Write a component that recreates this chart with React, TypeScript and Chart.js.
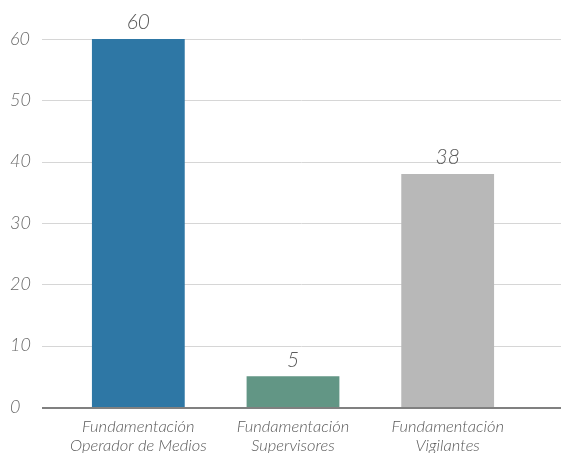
import React, { useEffect, useRef } from "react";
import { Chart, registerables } from "chart.js";

Chart.register(...registerables);

const categories: string[][] = [
  ["Fundamentación", "Operador de Medios"],
  ["Fundamentación", "Supervisores"],
  ["Fundamentación", "Vigilantes"],
];
const values: number[] = [60, 5, 38];
const barColors: string[] = ["#2e77a5", "#629685", "#b8b8b8"];
const yTicks: number[] = [0, 10, 20, 30, 40, 50, 60];

const FONT = "Lato, 'Open Sans', sans-serif";

const overlay = {
  id: "overlay",
  beforeDatasetsDraw(chart: any) {
    const { ctx } = chart;
    const y = chart.scales.y;
    ctx.save();
    yTicks.forEach((t) => {
      const py = Math.round(y.getPixelForValue(t));
      if (t === 0) return;
      ctx.strokeStyle = "#d6d6d6";
      ctx.lineWidth = 1;
      ctx.beginPath();
      ctx.moveTo(42, py + 0.5);
      ctx.lineTo(chart.width, py + 0.5);
      ctx.stroke();
    });
    ctx.restore();
  },
  afterDatasetsDraw(chart: any) {
    const { ctx } = chart;
    const y = chart.scales.y;
    const py = Math.round(y.getPixelForValue(0));
    ctx.save();
    ctx.strokeStyle = "#808080";
    ctx.lineWidth = 2;
    ctx.beginPath();
    ctx.moveTo(42, py + 1);
    ctx.lineTo(chart.width, py + 1);
    ctx.stroke();
    const meta = chart.getDatasetMeta(0);
    ctx.fillStyle = "#5a5a5a";
    ctx.font = `italic 300 21px ${FONT}`;
    ctx.textAlign = "center";
    ctx.textBaseline = "bottom";
    meta.data.forEach((bar: any, i: number) => {
      ctx.fillText(String(values[i]), bar.x, bar.y - 6);
    });
    ctx.restore();
  },
};

export default function App() {
  const ref = useRef<HTMLCanvasElement>(null);
  useEffect(() => {
    const chart = new Chart(ref.current!, {
      type: "bar",
      data: {
        labels: categories,
        datasets: [
          {
            data: values,
            backgroundColor: barColors,
            barPercentage: 0.6,
            categoryPercentage: 1,
          },
        ],
      },
      options: {
        animation: false,
        responsive: false,
        maintainAspectRatio: false,
        layout: { padding: { left: 10, right: 36, top: 39, bottom: 4 } },
        plugins: { legend: { display: false }, tooltip: { enabled: false } },
        scales: {
          x: {
            grid: { display: false, drawTicks: false },
            border: { display: false },
            afterFit(scale: any) {
              scale.height = 46;
            },
            ticks: {
              color: "#5a5a5a",
              font: { family: FONT, size: 16.5, style: "italic", weight: "300" as any, lineHeight: 1.15 },
              maxRotation: 0,
              padding: 10,
            },
          },
          y: {
            min: 0,
            max: 60,
            grid: { display: false, drawTicks: false },
            border: { display: false },
            afterFit(scale: any) {
              scale.width = 51;
            },
            ticks: {
              stepSize: 10,
              crossAlign: "far",
              color: "#6a6a6a",
              font: { family: FONT, size: 18, style: "italic", weight: "300" as any },
              padding: 0,
            },
          },
        },
      },
      plugins: [overlay],
    });
    return () => chart.destroy();
  }, []);
  return (
    <canvas
      ref={ref}
      width={561}
      height={457}
      style={{ position: "fixed", left: 0, top: 0, width: 561, height: 457 }}
    />
  );
}
